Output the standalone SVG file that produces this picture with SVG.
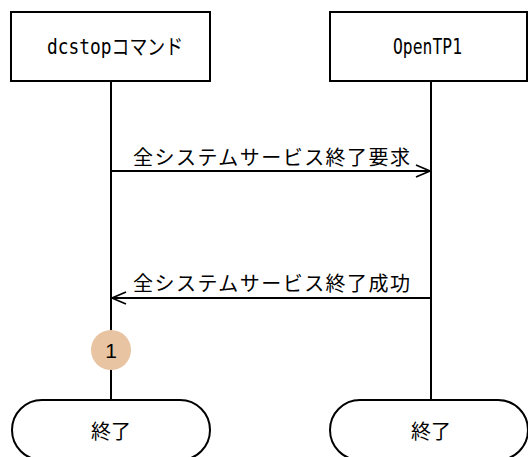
<svg xmlns="http://www.w3.org/2000/svg" width="528" height="457" viewBox="0 0 528 457">
<defs>
<style>
.box{fill:#fff;stroke:#000;stroke-width:2}
.ln{stroke:#000;stroke-width:2;fill:none}
.t{font-family:"DejaVu Sans Mono","Noto Sans CJK JP",monospace;font-size:21px;fill:#000}
.j{font-family:"Noto Sans CJK JP","Noto Sans",sans-serif;font-size:20px;fill:#000}
</style>
<marker id="ah" viewBox="0 0 16 14" refX="15" refY="7" markerWidth="16" markerHeight="14" markerUnits="userSpaceOnUse" orient="auto">
<path d="M1,1 L15,7 L1,13" fill="none" stroke="#000" stroke-width="1.8"/>
</marker>
</defs>
<rect width="528" height="457" fill="#fff"/>
<g id="connectors">
<line class="ln" x1="111" y1="81" x2="111" y2="400"/>
<line class="ln" x1="431" y1="81" x2="431" y2="400"/>
<line class="ln" x1="111" y1="171" x2="430" y2="171" marker-end="url(#ah)"/>
<line class="ln" x1="431" y1="298" x2="112" y2="298" marker-end="url(#ah)"/>
<text class="j" x="133" y="165" textLength="277" lengthAdjust="spacing">全システムサービス終了要求</text>
<text class="j" x="133" y="291" textLength="277" lengthAdjust="spacing">全システムサービス終了成功</text>
</g>
<g id="node-dcstop">
<rect class="box" x="11" y="12" width="199" height="69"/>
<text class="t" x="47" y="54" textLength="136" lengthAdjust="spacingAndGlyphs">dcstopコマンド</text>
</g>
<g id="node-opentp1">
<rect class="box" x="330" y="12" width="197" height="69"/>
<text class="t" x="393" y="54" textLength="69" lengthAdjust="spacingAndGlyphs">OpenTP1</text>
</g>
<g id="node-step1">
<circle cx="111" cy="350" r="20" fill="#E8C4A2"/>
<text x="111" y="358" text-anchor="middle" font-family="'Liberation Sans',sans-serif" font-size="21">1</text>
</g>
<g id="node-end-left">
<rect class="box" x="12" y="400" width="198" height="60" rx="30" ry="30"/>
<text class="j" x="111" y="439" text-anchor="middle">終了</text>
</g>
<g id="node-end-right">
<rect class="box" x="330" y="400" width="198" height="60" rx="30" ry="30"/>
<text class="j" x="431" y="439" text-anchor="middle">終了</text>
</g>
</svg>
